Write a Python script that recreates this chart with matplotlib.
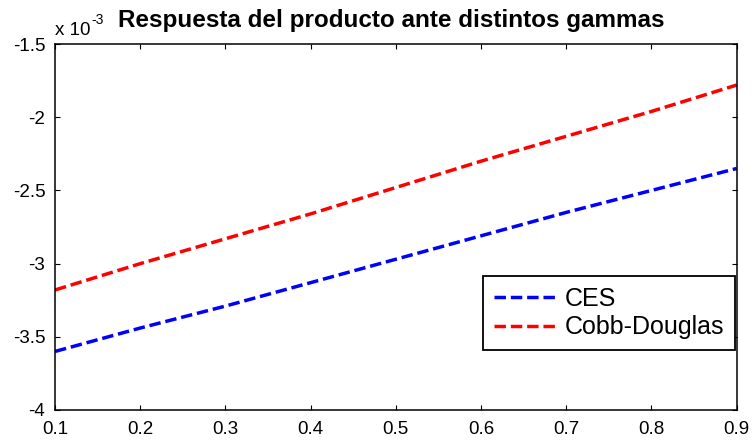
import numpy as np
import matplotlib.pyplot as plt

plt.rcParams['font.family'] = ['Liberation Sans', 'DejaVu Sans']

# gamma values and output response (units of 1e-3)
gamma = [0.1, 0.2, 0.3, 0.4, 0.5, 0.6, 0.7, 0.8, 0.9]
ces = [-3.60, -3.44, -3.29, -3.13, -2.97, -2.81, -2.65, -2.50, -2.35]
cobb_douglas = [-3.18, -3.00, -2.83, -2.66, -2.48, -2.30, -2.13, -1.96, -1.78]

xticks = [0.1, 0.2, 0.3, 0.4, 0.5, 0.6, 0.7, 0.8, 0.9]
yticks = [-4, -3.5, -3, -2.5, -2, -1.5]

fig = plt.figure(figsize=(7.54, 4.43), dpi=100)
ax = fig.add_axes([0.073, 0.0745, 0.904, 0.826])

dash = (0, (3.3, 1.4))
ax.plot(gamma, ces, color='#0000ff', linestyle=dash, linewidth=2.5, label='CES')
ax.plot(gamma, cobb_douglas, color='#ff0000', linestyle=dash, linewidth=2.5, label='Cobb-Douglas')

ax.set_xlim(0.1, 0.9)
ax.set_ylim(-4, -1.5)
ax.set_xticks(xticks)
ax.set_xticklabels(['%g' % t for t in xticks])
ax.set_yticks(yticks)
ax.set_yticklabels(['%g' % t for t in yticks])
ax.tick_params(direction='in', top=True, right=True, length=3.5, width=0.8, labelsize=13.5)
ax.tick_params(axis='x', pad=8)
ax.tick_params(axis='y', pad=7)
for s in ax.spines.values():
    s.set_linewidth(1.1)

ax.set_title('Respuesta del producto ante distintos gammas', fontsize=17.5,
             fontweight='bold', pad=12, x=0.493)

# MATLAB-style exponent label
t1 = ax.annotate('x 10', xy=(0, 1), xycoords='axes fraction', xytext=(0, 6.5),
                 textcoords='offset points', fontsize=13.5, ha='left', va='baseline')
ax.annotate('-3', xy=(1, 1), xycoords=t1, xytext=(0.5, 1.5), textcoords='offset points',
            fontsize=10, ha='left', va='center')

leg = ax.legend(loc='lower right', bbox_to_anchor=(0.997, 0.164), borderaxespad=0,
                fontsize=18, frameon=True, fancybox=False, framealpha=1,
                edgecolor='black', handlelength=2.5, handletextpad=0.33,
                borderpad=0.42, labelspacing=0.18)
leg.get_frame().set_linewidth(1.3)

fig.savefig('out.png', dpi=100)
